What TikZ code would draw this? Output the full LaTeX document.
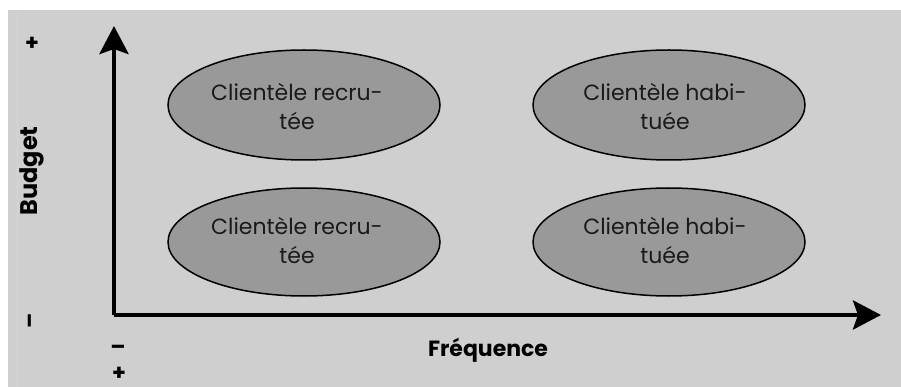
\documentclass[tikz,border=0pt]{standalone}
\usepackage{fontspec}
\setmainfont{Poppins}
\usetikzlibrary{arrows.meta,shapes.geometric}
\definecolor{panel}{HTML}{CFCFCF}
\definecolor{paneledge}{HTML}{D6D6D6}
\definecolor{blob}{HTML}{999999}
\definecolor{ink}{HTML}{1A1A1A}
\tikzset{
  axis/.style={line width=4.5pt, -{Stealth[length=28pt,width=29pt,inset=5pt]}},
  blobshape/.style={ellipse, draw=black, line width=1.5pt, fill=blob,
    minimum width=272pt, minimum height=110pt, inner sep=0pt},
  blobtext/.style={align=center, text=ink, inner sep=0pt,
    font=\fontsize{22}{29}\selectfont},
  axislabel/.style={font=\bfseries\fontsize{22}{26}\selectfont, inner sep=0pt},
  signlabel/.style={font=\bfseries\fontsize{22}{24}\selectfont, inner sep=0pt},
}
\begin{document}
\begin{tikzpicture}[x=1pt,y=-1pt]
  \useasboundingbox (0,0) rectangle (901,387);
  % panel behind the chart
  \fill[panel] (8,10) rectangle (901,387);
  \draw[paneledge, line width=1pt] (17.5,10) -- (17.5,387);

  % axes
  \coordinate (origin) at (114,315);
  \coordinate (ytip) at (114,26);
  \coordinate (xtip) at (881,315);
  \draw[axis] (origin) -- (ytip);
  \draw[axis] (origin) -- (xtip);

  % customer groups
  \node[blobshape] (tl) at (304,105) {};
  \node[blobshape] (tr) at (669,105) {};
  \node[blobshape, minimum height=108pt] (bl) at (304,242) {};
  \node[blobshape, minimum height=108pt] (br) at (669,242) {};
  \node[blobtext] (tltext) at ([xshift=-7pt,yshift=-1pt]tl.center) {Clientèle recru-\\tée};
  \node[blobtext] (trtext) at ([xshift=-4pt,yshift=-1pt]tr.center) {Clientèle habi-\\tuée};
  \node[blobtext] (bltext) at ([xshift=-7pt,yshift=2pt]bl.center) {Clientèle recru-\\tée};
  \node[blobtext] (brtext) at ([xshift=-4pt,yshift=2pt]br.center) {Clientèle habi-\\tuée};

  % axis labels
  \node[axislabel, rotate=90, font=\bfseries\fontsize{24}{26}\selectfont] (budget) at (32,171) {Budget};
  \node[axislabel] (freq) at (488,350) {Fréquence};
  \node[signlabel] (yplus) at (32,44) {+};
  \node[signlabel, rotate=90] (yminus) at (33,321) {–};
  \node[signlabel] (xminus) at (118,350) {–};
  \node[signlabel] (xplus) at (119,374) {+};
\end{tikzpicture}
\end{document}
